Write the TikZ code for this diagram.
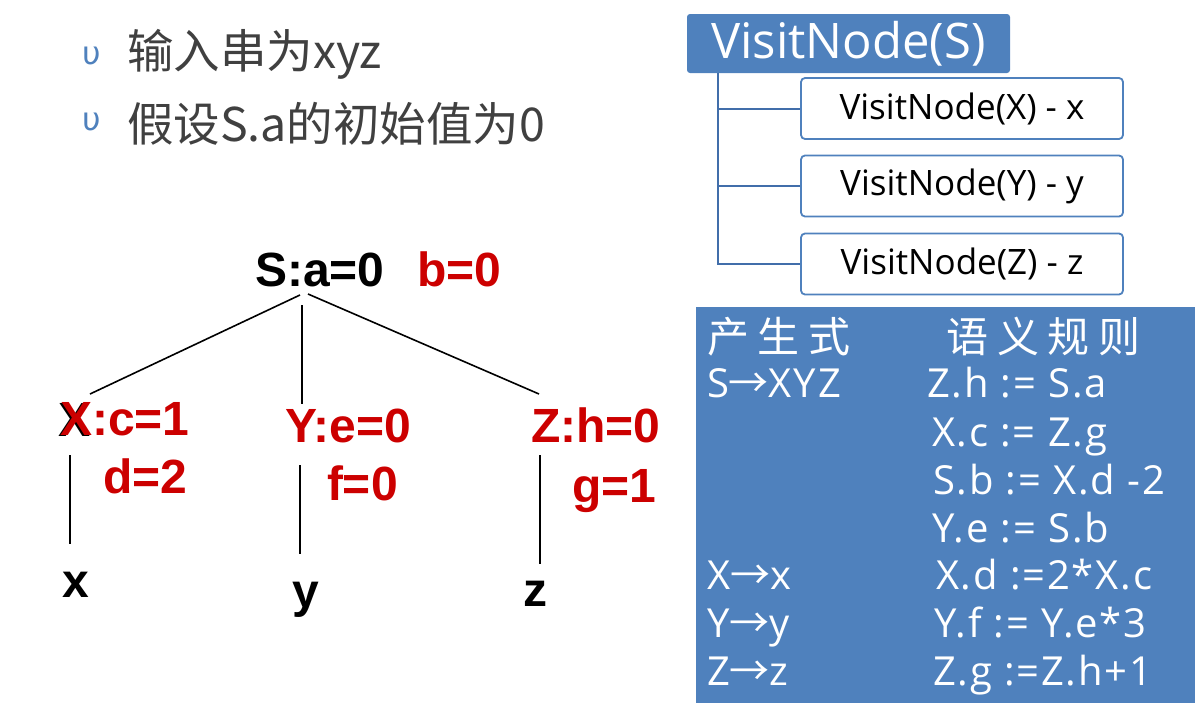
\documentclass[tikz,border=0pt]{standalone}
\usepackage{fontspec}
\setmainfont{Open Sans}
\newfontfamily\cjk{Noto Sans CJK SC}
\newfontfamily\dejavu{DejaVu Sans}
\newfontfamily\treefont{Liberation Sans}
\newfontfamily\tabfont[LetterSpace=4.5]{Open Sans}
\definecolor{hdblue}{RGB}{79,129,189}
\definecolor{branchblue}{RGB}{65,110,170}
\definecolor{txtgray}{RGB}{64,64,64}
\definecolor{attrred}{RGB}{204,0,0}
\newcommand{\myarrow}{{\cjk →}}
\begin{document}
\begin{tikzpicture}[x=1pt,y=-1pt,
  txt/.style={inner sep=0pt, outer sep=0pt, anchor=base west},
  bigcn/.style={txt, font=\cjk\fontsize{46.5}{46.5}\selectfont, text=txtgray},
  bul/.style={inner sep=0pt, font=\dejavu\fontsize{32}{32}\selectfont, text=hdblue},
  treetxt/.style={txt, font=\treefont\bfseries\fontsize{48}{48}\selectfont},
  attr/.style={text=attrred},
  edge/.style={draw=black, line width=1.6pt},
  branch/.style={draw=branchblue, line width=2pt},
  rootbox/.style={fill=hdblue, rounded corners=3pt, minimum width=323pt, minimum height=59pt, inner sep=0pt, text=white, font=\fontsize{49}{49}\selectfont},
  childbox/.style={draw=hdblue, line width=1.8pt, fill=white, rounded corners=4pt, minimum width=322pt, minimum height=61pt, inner sep=0pt, font=\fontsize{35}{35}\selectfont},
  tabbox/.style={fill=hdblue, minimum width=499pt, minimum height=396pt, inner sep=0pt},
  tab/.style={txt, font=\tabfont\fontsize{40}{40}\selectfont, text=white},
  tabcn/.style={txt, font=\cjk\fontsize{42}{42}\selectfont, text=white}
]
\useasboundingbox (0,0) rectangle (1199,707);

% top bullet lines
\node[bul] (b1) at (92,56) {υ};
\node[bul] (b2) at (92,122) {υ};
\node[bigcn] (l1) at (127,68) {输入串为xyz};
\node[bigcn] (l2) at (127,141) {假设S.a的初始值为0};

% VisitNode tree
\node[rootbox] (root) at (848.5,43.5) {VisitNode(S)};
\node[childbox] (vx) at (962,108.5) {VisitNode(X) - x};
\node[childbox] (vy) at (962,186) {VisitNode(Y) - y};
\node[childbox] (vz) at (962,264) {VisitNode(Z) - z};
\draw[branch] ([xshift=31pt]root.south west) |- (vx.west);
\draw[branch] ([xshift=31pt]root.south west) |- (vy.west);
\draw[branch] ([xshift=31pt]root.south west) |- (vz.west);

% table
\node[tabbox] (tbl) at (945.5,505) {};
\node[tabcn] (h1) at (707,352) {产\hspace{9pt}生\hspace{9pt}式};
\node[tabcn] (h2) at (946,352) {语\hspace{9pt}义\hspace{9pt}规\hspace{9pt}则};
\node[tab] (p1) at (707,397) {S\myarrow XYZ};
\node[tab] (r1) at (927,397) {Z.h := S.a};
\node[tab] (r2) at (932,446) {X.c := Z.g};
\node[tab] (r3) at (933,494) {S.b := X.d -2};
\node[tab] (r4) at (932,542) {Y.e := S.b};
\node[tab] (p2) at (707,589) {X\myarrow x};
\node[tab] (r5) at (936,589) {X.d :=2*X.c};
\node[tab] (p3) at (707,637) {Y\myarrow y};
\node[tab] (r6) at (934,637) {Y.f := Y.e*3};
\node[tab] (p4) at (707,685) {Z\myarrow z};
\node[tab] (r7) at (933,685) {Z.g :=Z.h+1};

% parse tree
\node[treetxt] (S) at (255,286) {S:a=0};
\node[treetxt,attr] (Sb) at (417,286) {b=0};
\node[treetxt] (Xshadow) at (58,436) {X};
\node[treetxt,attr] (X) at (60,435) {X:c=1};
\node[treetxt,attr] (Xd) at (103,493) {d=2};
\node[treetxt,attr] (Y) at (285,442) {Y:e=0};
\node[treetxt,attr] (Yf) at (327,500) {f=0};
\node[treetxt,attr] (Z) at (531,442) {Z:h=0};
\node[treetxt,attr] (Zg) at (572,502) {g=1};
\node[treetxt] (lx) at (62,597) {x};
\node[treetxt] (ly) at (292,607) {y};
\node[treetxt] (lz) at (523,606) {z};

\coordinate (sl) at (300,295);
\coordinate (sm) at (302,305);
\coordinate (sr) at (308,294);
\coordinate (xt) at (90,394);
\coordinate (yt) at (302,404);
\coordinate (zt) at (539,394);
\coordinate (xa) at (70,455);
\coordinate (xb) at (70,544);
\coordinate (ya) at (300,465);
\coordinate (yb) at (300,554);
\coordinate (za) at (540,455);
\coordinate (zb) at (540,564);
\draw[edge] (sl) -- (xt);
\draw[edge] (sm) -- (yt);
\draw[edge] (sr) -- (zt);
\draw[edge] (xa) -- (xb);
\draw[edge] (ya) -- (yb);
\draw[edge] (za) -- (zb);
\end{tikzpicture}
\end{document}
